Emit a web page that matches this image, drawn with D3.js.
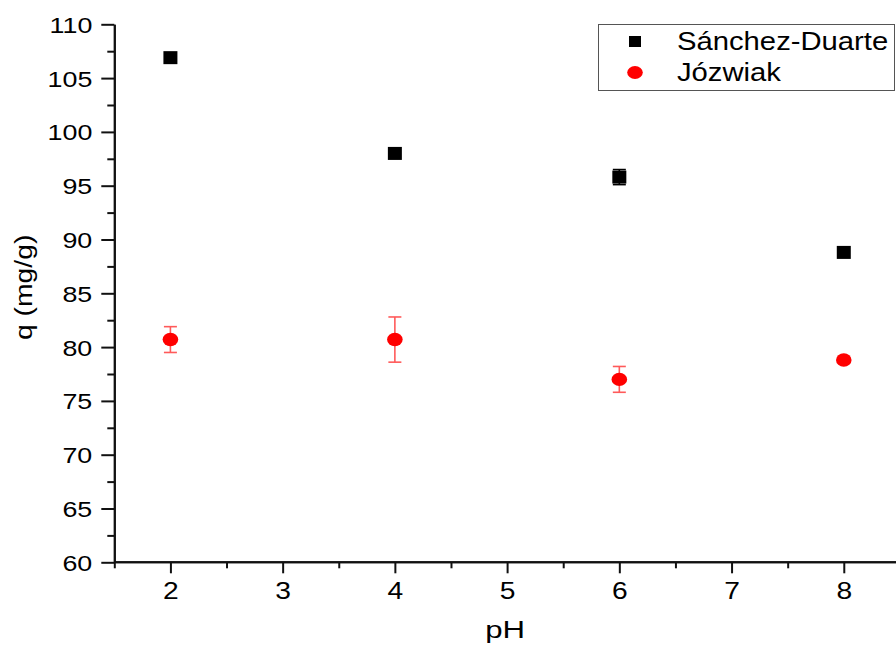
<!DOCTYPE html>
<html>
<head>
<meta charset="utf-8">
<script src="https://cdn.jsdelivr.net/npm/d3@7/dist/d3.min.js"></script>
<style>
  html, body { margin: 0; padding: 0; background: #fff; }
  svg { display: block; }
  text { font-family: "Liberation Sans", Arial, sans-serif; fill: #000; }
</style>
</head>
<body>
<svg id="chart" width="896" height="646"></svg>
<script>
// ---- data ----
const pH = [2, 4, 6, 8];
const sanchezDuarte = [106.9, 98.0, 95.8, 88.8];
const sanchezDuarteErr = [0, 0, 0.7, 0];
const jozwiak = [80.7, 80.7, 77.0, 78.8];
const jozwiakErr = [1.2, 2.1, 1.2, 0];
const seriesNames = ["Sánchez-Duarte", "Józwiak"];
const xTicks = [2, 3, 4, 5, 6, 7, 8];
const yTicks = [60, 65, 70, 75, 80, 85, 90, 95, 100, 105, 110];
const xLabel = "pH";
const yLabel = "q (mg/g)";

// ---- layout ----
const svg = d3.select("#chart");
const plotLeft = 114.3, plotBottom = 562.3, plotTop = 24.3;
const x = d3.scaleLinear().domain([1.5, 8.5]).range([plotLeft, 899.9]);
const y = d3.scaleLinear().domain([60, 110]).range([plotBottom, plotTop]);

// axes
const xMinor = d3.range(1.5, 8.51, 0.5).filter(v => !xTicks.includes(v));
const yMinor = d3.range(60, 110.01, 2.5).filter(v => !yTicks.includes(v));

const gx = svg.append("g").attr("transform", `translate(0,${plotBottom})`);
gx.call(d3.axisBottom(x).tickValues(xMinor).tickSize(6).tickSizeOuter(0).tickFormat(""));
gx.append("g").call(d3.axisBottom(x).tickValues(xTicks).tickSize(11).tickSizeOuter(0).tickFormat(d3.format("d")));
gx.selectAll("path.domain").attr("d", `M${plotLeft},0H896`);
gx.selectAll("path, line").attr("stroke", "#111").attr("stroke-width", 2);
gx.selectAll("text")
  .attr("y", 0).attr("dy", 0)
  .attr("transform", "translate(0,37) scale(1.2,1)")
  .attr("font-size", 23.5).attr("text-anchor", "middle");

const gy = svg.append("g").attr("transform", `translate(${plotLeft},0)`);
gy.call(d3.axisLeft(y).tickValues(yMinor).tickSize(7).tickSizeOuter(0).tickFormat(""));
gy.append("g").call(d3.axisLeft(y).tickValues(yTicks).tickSize(13).tickSizeOuter(0).tickFormat(d3.format("d")));
gy.selectAll("path, line").attr("stroke", "#111").attr("stroke-width", 2);
gy.selectAll("text")
  .attr("x", 0).attr("dy", 0)
  .attr("transform", "translate(-22,8) scale(1.22,1)")
  .attr("font-size", 22).attr("text-anchor", "end");
svg.selectAll(".domain").attr("fill", "none");

// axis titles
svg.append("text")
  .attr("transform", `translate(${(plotLeft + 896) / 2},638) scale(1.3,1)`)
  .attr("text-anchor", "middle").attr("font-size", 24)
  .text(xLabel);
svg.append("text")
  .attr("transform", `translate(32,${(plotTop + plotBottom) / 2 - 6}) rotate(-90) scale(1.18,1)`)
  .attr("text-anchor", "middle").attr("font-size", 24)
  .text(yLabel);

// error bars
function errorBars(vals, errs, color) {
  const g = svg.append("g").attr("stroke", color).attr("stroke-width", 1.6);
  pH.forEach((p, i) => {
    if (!errs[i]) return;
    const cx = x(p), y1 = y(vals[i] - errs[i]), y2 = y(vals[i] + errs[i]);
    g.append("line").attr("x1", cx).attr("x2", cx).attr("y1", y1).attr("y2", y2);
    g.append("line").attr("x1", cx - 6.5).attr("x2", cx + 6.5).attr("y1", y1).attr("y2", y1);
    g.append("line").attr("x1", cx - 6.5).attr("x2", cx + 6.5).attr("y1", y2).attr("y2", y2);
  });
}
errorBars(sanchezDuarte, sanchezDuarteErr, "#000");
errorBars(jozwiak, jozwiakErr, "#ff5a5a");

// markers
svg.append("g").selectAll("rect").data(pH).join("rect")
  .attr("x", d => x(d) - 7).attr("y", (d, i) => y(sanchezDuarte[i]) - 6.5)
  .attr("width", 14).attr("height", 13).attr("fill", "#000");
svg.append("g").selectAll("ellipse").data(pH).join("ellipse")
  .attr("cx", d => x(d)).attr("cy", (d, i) => y(jozwiak[i]))
  .attr("rx", 7.8).attr("ry", 6.7).attr("fill", "#ff0000");

// legend
const lg = svg.append("g");
lg.append("rect").attr("x", 598.5).attr("y", 24.5).attr("width", 296).attr("height", 66)
  .attr("fill", "#fff").attr("stroke", "#555").attr("stroke-width", 1);
lg.append("rect").attr("x", 629).attr("y", 36).attr("width", 12).attr("height", 11).attr("fill", "#000");
lg.append("ellipse").attr("cx", 635).attr("cy", 72.5).attr("rx", 7.8).attr("ry", 6.5).attr("fill", "#ff0000");
lg.append("text").attr("transform", "translate(677,50) scale(1.17,1)").attr("font-size", 25).text(seriesNames[0]);
lg.append("text").attr("transform", "translate(677,81) scale(1.17,1)").attr("font-size", 25).text(seriesNames[1]);
</script>
</body>
</html>
